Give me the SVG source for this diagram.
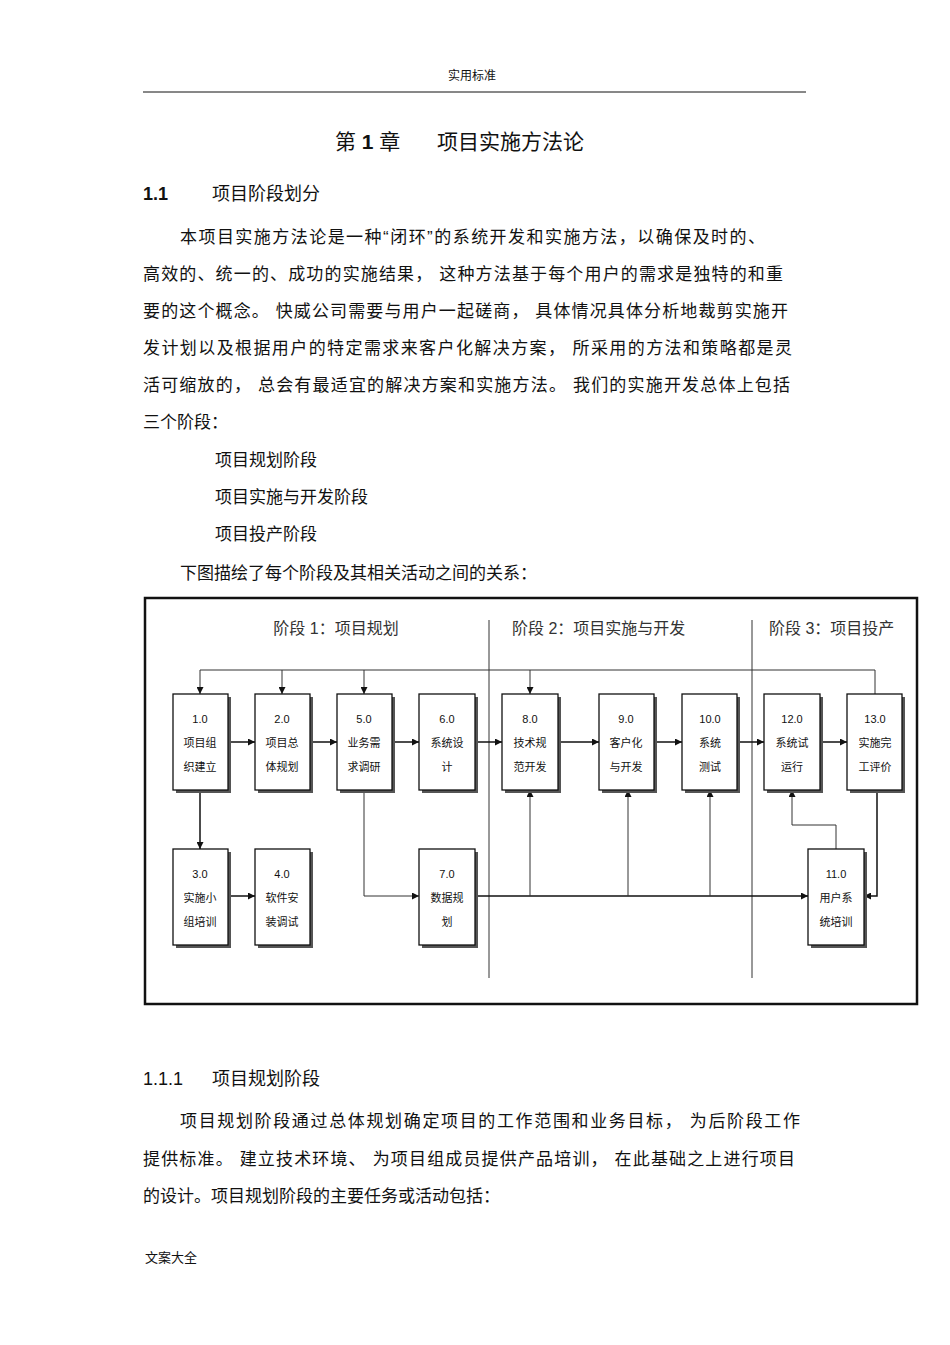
<svg xmlns="http://www.w3.org/2000/svg" width="950" height="1345" viewBox="0 0 950 1345">
<style>
text{font-family:"Liberation Sans","Noto Sans CJK SC",sans-serif;fill:#111}
.b{font-size:17px}
.bx rect.s{fill:#555}
.bx rect.f{fill:#fff;stroke:#111;stroke-width:1.3}
.bx text{font-size:11px;text-anchor:middle}
.c{fill:none;stroke:#111;stroke-width:1.5}
.t{fill:none;stroke:#333;stroke-width:1}
.ph{font-size:16px;fill:#333}
</style>
<defs><marker id="a" viewBox="0 0 10 10" refX="10" refY="5" markerWidth="7" markerHeight="7" orient="auto" markerUnits="userSpaceOnUse"><path d="M0,0L10,5L0,10z" fill="#111"/></marker></defs>
<rect width="950" height="1345" fill="#fff"/>
<text x="472" y="80" font-size="12" text-anchor="middle">实用标准</text>
<line x1="143" y1="92" x2="806" y2="92" stroke="#111"/>
<text x="335" y="149" font-size="21">第 <tspan font-weight="bold">1</tspan> 章</text>
<text x="437" y="149" font-size="21">项目实施方法论</text>
<text x="143" y="200" font-size="18" font-weight="bold">1.1</text>
<text x="212" y="200" font-size="18">项目阶段划分</text>
<text class="b" x="180" y="243" textLength="585" lengthAdjust="spacing">本项目实施方法论是一种“闭环”的系统开发和实施方法，以确保及时的、</text>
<text class="b" x="143" y="280" textLength="640" lengthAdjust="spacing">高效的、统一的、成功的实施结果，  这种方法基于每个用户的需求是独特的和重</text>
<text class="b" x="143" y="317" textLength="645" lengthAdjust="spacing">要的这个概念。 快威公司需要与用户一起磋商，   具体情况具体分析地裁剪实施开</text>
<text class="b" x="143" y="354" textLength="649" lengthAdjust="spacing">发计划以及根据用户的特定需求来客户化解决方案，    所采用的方法和策略都是灵</text>
<text class="b" x="143" y="391" textLength="647" lengthAdjust="spacing">活可缩放的， 总会有最适宜的解决方案和实施方法。   我们的实施开发总体上包括</text>
<text class="b" x="143" y="428">三个阶段：</text>
<text class="b" x="215" y="466">项目规划阶段</text>
<text class="b" x="215" y="503">项目实施与开发阶段</text>
<text class="b" x="215" y="540">项目投产阶段</text>
<text class="b" x="180" y="579">下图描绘了每个阶段及其相关活动之间的关系：</text>
<rect x="145" y="598" width="772" height="406" fill="#fff" stroke="#111" stroke-width="2.5"/>
<g id="phases">
<line class="t" x1="489" y1="620" x2="489" y2="978" stroke="#999"/>
<line class="t" x1="752" y1="620" x2="752" y2="978" stroke="#999"/>
<text class="ph" x="336" y="634" text-anchor="middle">阶段 1：项目规划</text>
<text class="ph" x="512" y="634">阶段 2：项目实施与开发</text>
<text class="ph" x="769" y="634">阶段 3：项目投产</text>
</g>
<g id="connectors">
<path class="t" d="M875,694V670H200" stroke="#333"/>
<path class="t" d="M200,670V694" marker-end="url(#a)"/>
<path class="t" d="M282,670V694" marker-end="url(#a)"/>
<path class="t" d="M364,670V694" marker-end="url(#a)"/>
<path class="t" d="M530,670V694" marker-end="url(#a)"/>
<path class="c" d="M228,742H255" marker-end="url(#a)"/>
<path class="c" d="M310,742H337" marker-end="url(#a)"/>
<path class="c" d="M392,742H419" marker-end="url(#a)"/>
<path class="c" d="M475,742H502" marker-end="url(#a)"/>
<path class="c" d="M558,742H599" marker-end="url(#a)"/>
<path class="c" d="M654,742H682" marker-end="url(#a)"/>
<path class="c" d="M737,742H764" marker-end="url(#a)"/>
<path class="c" d="M820,742H847" marker-end="url(#a)"/>
<path class="c" d="M200,790V849" marker-end="url(#a)"/>
<path class="c" d="M228,896H255" marker-end="url(#a)"/>
<path class="t" d="M364,790V896H419" marker-end="url(#a)"/>
<path class="c" d="M475,896H808" marker-end="url(#a)"/>
<path class="t" d="M530,896V790" marker-end="url(#a)"/>
<path class="t" d="M628,896V790" marker-end="url(#a)"/>
<path class="t" d="M710,896V790" marker-end="url(#a)"/>
<path class="t" d="M836,849V825H792V790" marker-end="url(#a)"/>
<path class="c" d="M877,790V896H864" marker-end="url(#a)"/>
</g>
<g class="bx">
<g id="n1"><rect class="s" x="176" y="697" width="55" height="96"/><rect class="f" x="173" y="694" width="55" height="96"/><text x="200" y="723">1.0</text><text x="200" y="747">项目组</text><text x="200" y="771">织建立</text></g>
<g id="n2"><rect class="s" x="258" y="697" width="55" height="96"/><rect class="f" x="255" y="694" width="55" height="96"/><text x="282" y="723">2.0</text><text x="282" y="747">项目总</text><text x="282" y="771">体规划</text></g>
<g id="n5"><rect class="s" x="340" y="697" width="55" height="96"/><rect class="f" x="337" y="694" width="55" height="96"/><text x="364" y="723">5.0</text><text x="364" y="747">业务需</text><text x="364" y="771">求调研</text></g>
<g id="n6"><rect class="s" x="422" y="697" width="56" height="96"/><rect class="f" x="419" y="694" width="56" height="96"/><text x="447" y="723">6.0</text><text x="447" y="747">系统设</text><text x="447" y="771">计</text></g>
<g id="n8"><rect class="s" x="505" y="697" width="56" height="96"/><rect class="f" x="502" y="694" width="56" height="96"/><text x="530" y="723">8.0</text><text x="530" y="747">技术规</text><text x="530" y="771">范开发</text></g>
<g id="n9"><rect class="s" x="602" y="697" width="55" height="96"/><rect class="f" x="599" y="694" width="55" height="96"/><text x="626" y="723">9.0</text><text x="626" y="747">客户化</text><text x="626" y="771">与开发</text></g>
<g id="n10"><rect class="s" x="685" y="697" width="55" height="96"/><rect class="f" x="682" y="694" width="55" height="96"/><text x="710" y="723">10.0</text><text x="710" y="747">系统</text><text x="710" y="771">测试</text></g>
<g id="n12"><rect class="s" x="767" y="697" width="56" height="96"/><rect class="f" x="764" y="694" width="56" height="96"/><text x="792" y="723">12.0</text><text x="792" y="747">系统试</text><text x="792" y="771">运行</text></g>
<g id="n13"><rect class="s" x="850" y="697" width="55" height="96"/><rect class="f" x="847" y="694" width="55" height="96"/><text x="875" y="723">13.0</text><text x="875" y="747">实施完</text><text x="875" y="771">工评价</text></g>
<g id="n3"><rect class="s" x="176" y="852" width="55" height="96"/><rect class="f" x="173" y="849" width="55" height="96"/><text x="200" y="878">3.0</text><text x="200" y="902">实施小</text><text x="200" y="926">组培训</text></g>
<g id="n4"><rect class="s" x="258" y="852" width="55" height="96"/><rect class="f" x="255" y="849" width="55" height="96"/><text x="282" y="878">4.0</text><text x="282" y="902">软件安</text><text x="282" y="926">装调试</text></g>
<g id="n7"><rect class="s" x="422" y="852" width="56" height="96"/><rect class="f" x="419" y="849" width="56" height="96"/><text x="447" y="878">7.0</text><text x="447" y="902">数据规</text><text x="447" y="926">划</text></g>
<g id="n11"><rect class="s" x="811" y="852" width="56" height="96"/><rect class="f" x="808" y="849" width="56" height="96"/><text x="836" y="878">11.0</text><text x="836" y="902">用户系</text><text x="836" y="926">统培训</text></g>
</g>
<text x="143" y="1085" font-size="18">1.1.1</text>
<text x="212" y="1085" font-size="18">项目规划阶段</text>
<text class="b" x="180" y="1127" textLength="620" lengthAdjust="spacing">项目规划阶段通过总体规划确定项目的工作范围和业务目标，     为后阶段工作</text>
<text class="b" x="143" y="1165" textLength="652" lengthAdjust="spacing">提供标准。 建立技术环境、 为项目组成员提供产品培训，    在此基础之上进行项目</text>
<text class="b" x="143" y="1202">的设计。项目规划阶段的主要任务或活动包括：</text>
<text x="145" y="1262" font-size="13">文案大全</text>
</svg>
